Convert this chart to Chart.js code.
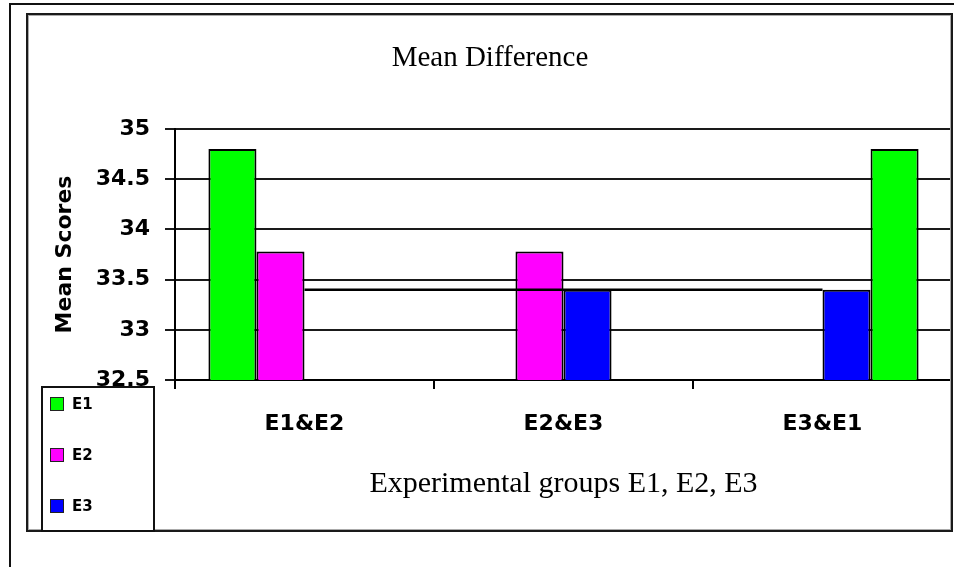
<!DOCTYPE html>
<html>
<head>
<meta charset="utf-8">
<title>Mean Difference</title>
<script src="https://cdn.jsdelivr.net/npm/chart.js@4.4.1/dist/chart.umd.min.js"></script>
<style>
  html, body { margin: 0; padding: 0; background: #fff; }
  #wrap { position: relative; width: 954px; height: 567px; }
</style>
</head>
<body>
<div id="wrap"><canvas id="c" width="954" height="567"></canvas></div>
<script>
// Pairs of experimental groups compared on the category axis
const categories = ['E1&E2', 'E2&E3', 'E3&E1'];

// Mean scores per group; each pair shows only its two groups.
// E1 sits in the first slot of "E1&E2" and in the last slot of "E3&E1".
const e1Lead   = [34.8, null, null];
const e2Scores = [33.78, 33.78, null];
const e3Scores = [null, 33.4, 33.4];
const e1Trail  = [null, null, 34.8];

// Reference line across the pairs at the E3 mean
const meanLine = [33.4, 33.4, 33.4];

// Value axis ticks
const yTicks      = [32.5, 33, 33.5, 34, 34.5, 35];
const yTickLabels = ['32.5', '33', '33.5', '34', '34.5', '35'];

const groupColors = { E1: '#00ff00', E2: '#ff00ff', E3: '#0000ff' };

const boldSans = size => ({ family: 'DejaVu Sans', size: size, weight: 'bold' });
const serif = size => ({ family: 'Liberation Serif', size: size, weight: 'normal' });

function barSet(label, data) {
  return {
    type: 'bar',
    label: label,
    data: data,
    backgroundColor: groupColors[label],
    borderColor: '#000',
    borderWidth: 2,
    borderSkipped: false,
    categoryPercentage: 0.742,
    barPercentage: 1,
    order: 2
  };
}

// Page frame plus the boxed key in the lower-left corner
const frameAndKey = {
  id: 'frameAndKey',
  afterDraw(chart) {
    const ctx = chart.ctx;
    ctx.save();

    // outer page rule (left and top)
    ctx.strokeStyle = '#111';
    ctx.lineWidth = 2;
    ctx.beginPath();
    ctx.moveTo(10, 567);
    ctx.lineTo(10, 4);
    ctx.lineTo(954, 4);
    ctx.stroke();

    // chart frame
    ctx.strokeStyle = '#1a1a1a';
    ctx.lineWidth = 2;
    ctx.strokeRect(27, 14, 925, 517);
    ctx.strokeStyle = '#aaa';
    ctx.lineWidth = 1;
    ctx.strokeRect(28.5, 15.5, 922, 514);

    // key box
    const bx = 42, by = chart.chartArea.bottom + 7, bw = 112, bh = 531 - by;
    ctx.fillStyle = '#fff';
    ctx.fillRect(bx, by, bw, bh);
    ctx.strokeStyle = '#111';
    ctx.lineWidth = 2;
    ctx.strokeRect(bx, by, bw, bh);

    // one entry per group, taken from the bar datasets
    const seen = [];
    chart.data.datasets.forEach(ds => {
      if (ds.type === 'bar' && seen.indexOf(ds.label) < 0) seen.push(ds.label);
    });
    ctx.font = 'bold 15px "DejaVu Sans"';
    ctx.textBaseline = 'middle';
    ctx.textAlign = 'left';
    seen.forEach((label, i) => {
      const cy = by + 17 + i * 51;
      ctx.fillStyle = groupColors[label];
      ctx.fillRect(50.5, cy - 6.5, 13, 13);
      ctx.strokeStyle = '#222';
      ctx.lineWidth = 1;
      ctx.strokeRect(50.5, cy - 6.5, 13, 13);
      ctx.fillStyle = '#000';
      ctx.fillText(label, 72, cy + 1);
    });

    ctx.restore();
  }
};

new Chart(document.getElementById('c'), {
  data: {
    labels: categories,
    datasets: [
      barSet('E1', e1Lead),
      barSet('E2', e2Scores),
      barSet('E3', e3Scores),
      barSet('E1', e1Trail),
      {
        type: 'line',
        label: 'E3 level',
        data: meanLine,
        borderColor: '#000',
        borderWidth: 2.5,
        pointRadius: 0,
        fill: false,
        order: 0
      }
    ]
  },
  options: {
    responsive: false,
    animation: false,
    layout: { padding: { left: 28, right: 2, top: 0, bottom: 0 } },
    plugins: {
      legend: { display: false },
      tooltip: { enabled: false },
      title: {
        display: true,
        text: 'Mean Difference',
        color: '#000',
        font: serif(29),
        padding: { top: 41.4, bottom: 52.8 }
      }
    },
    scales: {
      x: {
        offset: true,
        afterFit: s => { s.height = 187; },
        grid: {
          display: true,
          drawOnChartArea: false,
          drawTicks: true,
          tickLength: 9,
          color: '#000',
          lineWidth: 2,
          offset: true
        },
        border: { display: true, color: '#000', width: 2 },
        ticks: { padding: 22, color: '#000', font: boldSans(22), maxRotation: 0 },
        title: {
          display: true,
          text: 'Experimental groups E1, E2, E3',
          color: '#000',
          font: serif(30),
          padding: { top: 0, bottom: 65 }
        }
      },
      y: {
        min: 32.5,
        max: 35,
        afterBuildTicks: s => { s.ticks = yTicks.map(v => ({ value: v })); },
        afterFit: s => { s.width = 147; },
        grid: { color: '#1a1a1a', lineWidth: 2, tickLength: 10, drawTicks: true },
        border: { display: true, color: '#000', width: 2 },
        ticks: {
          padding: 15,
          color: '#000',
          font: boldSans(22),
          callback: v => yTickLabels[yTicks.indexOf(v)]
        },
        title: {
          display: true,
          text: 'Mean Scores',
          color: '#000',
          font: boldSans(22),
          padding: { top: 24, bottom: 0 }
        }
      }
    }
  },
  plugins: [frameAndKey]
});
</script>
</body>
</html>
